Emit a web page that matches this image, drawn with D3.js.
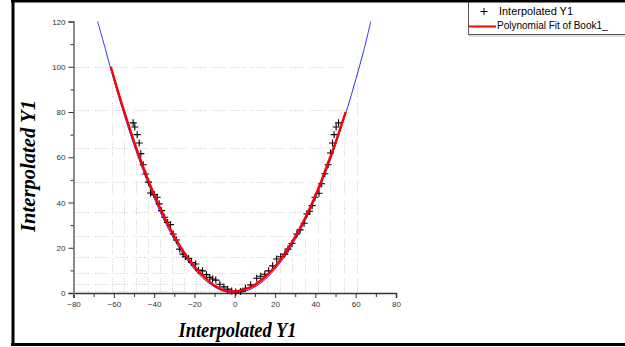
<!DOCTYPE html>
<html>
<head>
<meta charset="utf-8">
<script src="https://cdn.jsdelivr.net/npm/d3@7"></script>
<style>
  body { margin: 0; background: #fff; }
  svg { display: block; }
</style>
</head>
<body>
<div id="chart"></div>
<script>
// values
var xTicks = [-80, -60, -40, -20, 0, 20, 40, 60, 80];
var yTicks = [0, 20, 40, 60, 80, 100, 120];

// blue reference curve
var blueX = [-68, -64, -60, -56, -52, -48, -44, -40, -36, -32, -28, -24, -20, -16, -12, -8, -4, 0,
             4, 8, 12, 16, 20, 24, 28, 32, 36, 40, 44, 48, 52, 56, 60, 64, 67.5];
var blueY = [120, 107.2, 94.2, 82.1, 70.8, 60.3, 50.7, 41.9, 33.9, 26.8, 20.5, 15.1, 10.5, 6.7, 3.8, 1.7, 0.4, 0,
             0.4, 1.7, 3.8, 6.7, 10.5, 15.1, 20.5, 26.8, 33.9, 41.9, 50.7, 60.3, 70.8, 82.1, 94.2, 107.2, 120];

// red polynomial fit
var fitX = [-61.5, -58, -54, -50, -46, -42, -38, -34, -30, -26, -22, -18, -14, -10, -6, -2,
            2, 6, 10, 14, 18, 22, 26, 30, 34, 38, 42, 46, 50, 55];
var fitY = [100, 89.3, 77.8, 67.0, 57.0, 47.8, 39.4, 31.8, 25.0, 19.1, 13.9, 9.6, 6.2, 3.3, 1.4, 0.6,
            0.9, 1.9, 3.6, 6.3, 9.7, 13.9, 19.0, 24.9, 31.5, 38.9, 47.3, 56.8, 66.5, 80];

// "Interpolated Y1" points
var ptX = [-50.4, -49.6, -48.4, -47.4, -46.6, -45.4, -44.2, -42.8, -41.8, -39.9, -38.5, -37.5, -36.3, -34.8,
           -33.3, -31.9, -30.5, -28.9, -27.3, -25.7, -24.5, -22.9, -21.4, -19.4, -18, -16, -14, -12.4, -11,
           -9.4, -7.4, -5.4, -3.5, -1.5, 0.5, 2.9, 5.3, 7.9, 10.9, 12.9, 14.9, 16.8, 18.8, 20.8, 22.8, 24.8,
           26.4, 28.4, 30.8, 32.4, 34.4, 35.8, 37.2, 38.4, 39.8, 41.8, 43.1, 44.7, 46.3, 47.5, 48.5, 49.3,
           50.3, 51.5];
var ptY = [75.2, 73.4, 70, 66.3, 61.6, 56.7, 52.6, 49, 44.2, 43.5, 42.3, 39.4, 36.4, 33.5,
           31.2, 30.2, 26.1, 23.4, 19.4, 17.2, 16, 15.3, 13.5, 12.8, 10.1, 9.8, 8.1, 6.9, 6.2,
           5.7, 3.9, 2.7, 1.7, 0.9, 0.4, 0.7, 2.1, 3.6, 6.5, 7.4, 8.3, 9.8, 12, 15, 16, 17.2,
           19.4, 21.9, 26.1, 27.9, 30.8, 34.9, 36.1, 38.6, 42.3, 44.1, 48.3, 52.7, 56.7, 61.9, 66.3, 70,
           73.4, 75.2];

// dotted drop lines
var gridY = [1, 4, 9, 16, 25, 36, 49, 64, 81, 100];
var gridYEnd = [6, 12, 18, 24, 30, 36, 42, 48, 54, 55];
var gridX = [-61, -55, -49, -43, -37, -31, -25, -19, -13, -7, 4, 10, 16, 22.5, 28.5, 35, 41.5, 47.5, 54, 60.5];
var gridXTop = [100, 81, 64, 49, 36, 25, 16, 9, 4, 1, 1, 4, 9, 16, 25, 36, 49, 64, 81, 100];

var W = 625, H = 347;
var svg = d3.select("#chart").append("svg")
    .attr("width", W)
    .attr("height", H);

var x = d3.scaleLinear().domain([-80, 80]).range([73.5, 396]);
var y = d3.scaleLinear().domain([0, 120]).range([293, 21.5]);

// grid
var grid = svg.append("g")
    .attr("stroke", "#cfcfcf")
    .attr("stroke-width", 1)
    .attr("stroke-dasharray", "1,1.5,1,1.5,1,1.5,1,1.5,1,1.5,1,6");
gridY.forEach(function (v, i) {
    grid.append("line")
        .attr("x1", x(-80) + 2).attr("x2", x(gridYEnd[i]))
        .attr("y1", Math.round(y(v)) + 0.5).attr("y2", Math.round(y(v)) + 0.5);
});
gridX.forEach(function (v, i) {
    grid.append("line")
        .attr("x1", Math.round(x(v)) + 0.5).attr("x2", Math.round(x(v)) + 0.5)
        .attr("y1", y(0) - 1).attr("y2", y(gridXTop[i]));
});

// axes
var xAxis = svg.append("g")
    .attr("transform", "translate(0," + y(0) + ")")
    .call(d3.axisBottom(x).tickValues(xTicks).tickSize(5).tickPadding(3).tickFormat(d3.format("d")));
var xMinor = svg.append("g")
    .attr("transform", "translate(0," + y(0) + ")")
    .call(d3.axisBottom(x).tickValues(d3.range(-70, 80, 20)).tickSize(4).tickFormat(""));
var yAxis = svg.append("g")
    .attr("transform", "translate(" + x(-80) + ",0)")
    .call(d3.axisLeft(y).tickValues(yTicks).tickSize(5).tickPadding(3).tickFormat(d3.format("d")));
var yMinor = svg.append("g")
    .attr("transform", "translate(" + x(-80) + ",0)")
    .call(d3.axisLeft(y).tickValues(d3.range(10, 120, 20)).tickSize(3).tickFormat(""));

[xMinor, yMinor].forEach(function (g) { g.select(".domain").remove(); });
xAxis.select(".domain").attr("stroke", "#333").attr("stroke-width", 1.5);
yAxis.select(".domain").attr("stroke", "#8a8a8a").attr("stroke-width", 2);
svg.selectAll(".tick line").attr("stroke", "#333");
svg.selectAll(".tick text")
    .attr("fill", "#333")
    .style("font-family", "'Liberation Sans', Arial, sans-serif")
    .style("font-size", "8px");

// blue curve
var line = d3.line().curve(d3.curveCatmullRom);
svg.append("path")
    .datum(blueX.map(function (d, i) { return [x(d), y(blueY[i])]; }))
    .attr("d", line)
    .attr("fill", "none")
    .attr("stroke", "#2f2fff")
    .attr("stroke-width", 1);

// points
var plus = svg.append("g").attr("stroke", "#000").attr("stroke-width", 1.1);
ptX.forEach(function (d, i) {
    var px = x(d), py = y(ptY[i]);
    plus.append("path")
        .attr("d", "M" + (px - 3.5) + "," + py + "H" + (px + 3.5) + "M" + px + "," + (py - 3.5) + "V" + (py + 3.5));
});

// red fit
svg.append("path")
    .datum(fitX.map(function (d, i) { return [x(d), y(fitY[i])]; }))
    .attr("d", line)
    .attr("fill", "none")
    .attr("stroke", "#ff0000")
    .attr("stroke-width", 2.4);

// axis titles
svg.append("text")
    .attr("x", 237.5)
    .attr("y", 337)
    .attr("text-anchor", "middle")
    .attr("textLength", 118)
    .attr("lengthAdjust", "spacingAndGlyphs")
    .style("font-family", "'Liberation Serif', 'Times New Roman', serif")
    .style("font-weight", "bold")
    .style("font-style", "italic")
    .style("font-size", "20px")
    .text("Interpolated Y1");

svg.append("text")
    .attr("transform", "translate(35,166) rotate(-90)")
    .attr("text-anchor", "middle")
    .attr("textLength", 132)
    .attr("lengthAdjust", "spacingAndGlyphs")
    .style("font-family", "'Liberation Serif', 'Times New Roman', serif")
    .style("font-weight", "bold")
    .style("font-style", "italic")
    .style("font-size", "20px")
    .text("Interpolated Y1");

// legend
var leg = svg.append("g");
leg.append("rect")
    .attr("x", 468.5).attr("y", 0.5)
    .attr("width", 170).attr("height", 34)
    .attr("fill", "#fff")
    .attr("stroke", "#555")
    .attr("stroke-width", 1);
leg.append("line")
    .attr("x1", 469).attr("x2", 625).attr("y1", 36).attr("y2", 36)
    .attr("stroke", "#bbb");
leg.append("path")
    .attr("d", "M480.5,11.5H487.5M484,8V15")
    .attr("stroke", "#000");
leg.append("line")
    .attr("x1", 469).attr("x2", 496).attr("y1", 26.5).attr("y2", 26.5)
    .attr("stroke", "#ff0000").attr("stroke-width", 2);
leg.append("text")
    .attr("x", 499).attr("y", 15)
    .attr("textLength", 74)
    .attr("lengthAdjust", "spacingAndGlyphs")
    .style("font-family", "'Liberation Sans', Arial, sans-serif")
    .style("font-size", "10px")
    .text("Interpolated Y1");
leg.append("text")
    .attr("x", 497).attr("y", 28.5)
    .style("font-family", "'Liberation Sans', Arial, sans-serif")
    .style("font-size", "10px")
    .text("Polynomial Fit of Book1_");

// frame
var frame = svg.append("g").attr("stroke", "#000").attr("stroke-width", 3);
frame.append("line").attr("x1", 11).attr("x2", W).attr("y1", 1).attr("y2", 1);
frame.append("line").attr("x1", 13).attr("x2", 13).attr("y1", 0).attr("y2", 346);
frame.append("line").attr("x1", 11).attr("x2", W).attr("y1", 344.5).attr("y2", 344.5);
</script>
</body>
</html>
